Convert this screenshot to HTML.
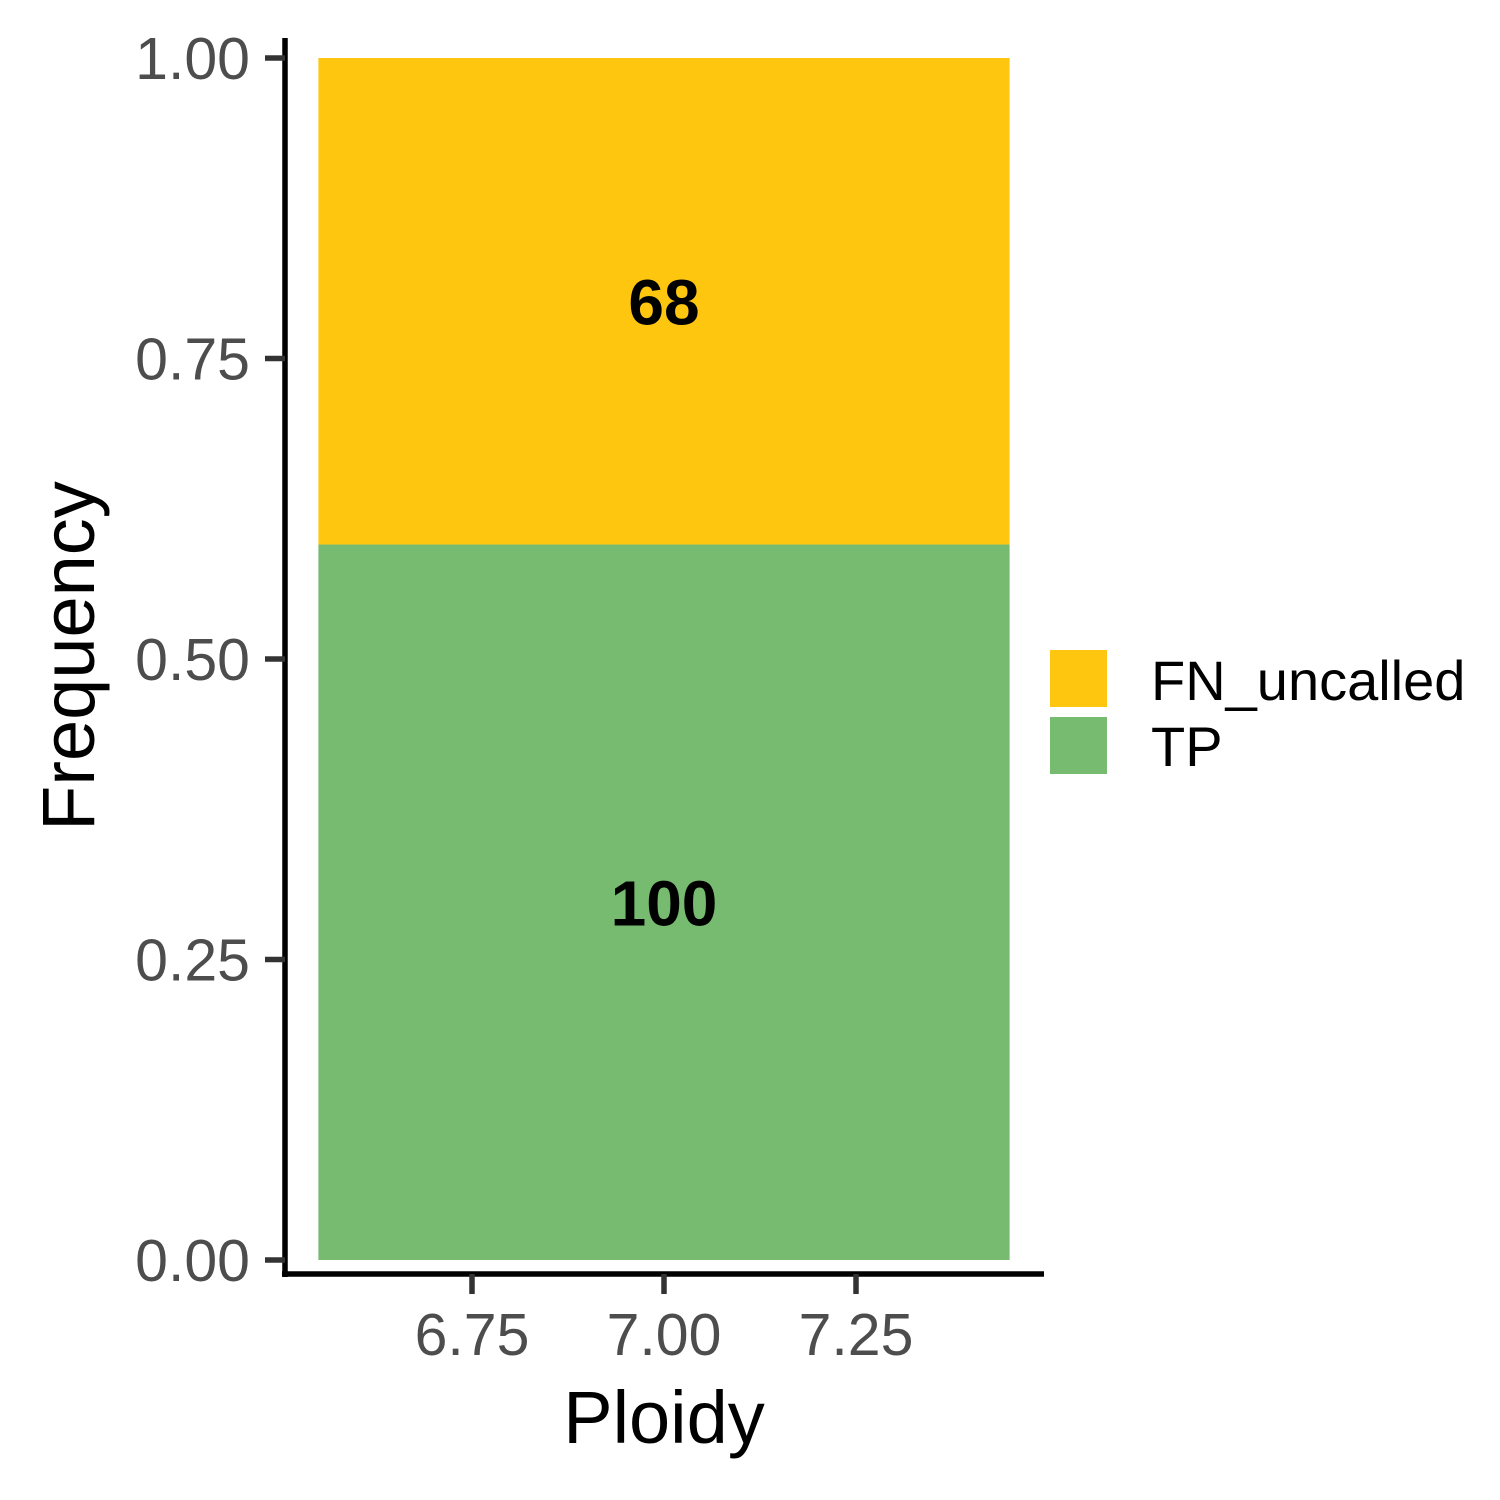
<!DOCTYPE html>
<html><head><meta charset="utf-8"><style>
html,body{margin:0;padding:0;background:#fff}
svg{display:block;font-family:"Liberation Sans",Arial,sans-serif}
</style></head><body>
<svg id="chart" width="1500" height="1500" viewBox="0 0 1500 1500">
<g id="bars"></g>
<g id="axes"></g>
<g id="legend"></g>
</svg>
<script>
const categories = [7.0];
const seriesNames = ["TP", "FN_uncalled"];
const tpCounts = [100];
const fnCounts = [68];
const seriesColors = ["#76bb70", "#fec60f"];
const yTicks = [0, 0.25, 0.5, 0.75, 1.0];
const yTickLabels = ["0.00", "0.25", "0.50", "0.75", "1.00"];
const xTicks = [6.75, 7.0, 7.25];
const xTickLabels = ["6.75", "7.00", "7.25"];
const legendLabels = ["FN_uncalled", "TP"];

const NS = "http://www.w3.org/2000/svg";
function el(tag, attrs, parent, text) {
  const e = document.createElementNS(NS, tag);
  for (const k in attrs) e.setAttribute(k, attrs[k]);
  if (text !== undefined) e.textContent = text;
  parent.appendChild(e);
  return e;
}
const yScale = v => 1260 - v * 1202;
const xScale = v => 664 + (v - 7.0) * 768;
const bars = document.getElementById("bars");
const axes = document.getElementById("axes");
const legend = document.getElementById("legend");

categories.forEach((c, i) => {
  const total = tpCounts[i] + fnCounts[i];
  const tpFrac = tpCounts[i] / total;
  const x0 = xScale(c - 0.45), x1 = xScale(c + 0.45);
  const r1 = el("rect", {x: x0, y: yScale(tpFrac), width: x1 - x0, height: yScale(0) - yScale(tpFrac), fill: seriesColors[0]}, bars);
  
  
  const r2 = el("rect", {x: x0, y: yScale(1), width: x1 - x0, height: yScale(tpFrac) - yScale(1), fill: seriesColors[1]}, bars);
  
  
  const t1 = el("text", {x: xScale(c), y: yScale(tpFrac / 2) + 23, "text-anchor": "middle", "font-size": 64, "font-weight": "bold", fill: "#000"}, bars, String(tpCounts[i]));
  
  
  const t2 = el("text", {x: xScale(c), y: yScale(tpFrac + (1 - tpFrac) / 2) + 23, "text-anchor": "middle", "font-size": 64, "font-weight": "bold", fill: "#000"}, bars, String(fnCounts[i]));
  
  
});

const yl = el("line", {x1: 285, y1: 38, x2: 285, y2: 1277, stroke: "#000", "stroke-width": 5.5}, axes);


const xl = el("line", {x1: 282, y1: 1274, x2: 1044, y2: 1274, stroke: "#000", "stroke-width": 5.5}, axes);



yTicks.forEach((v, i) => {
  const t = el("line", {x1: 265, y1: yScale(v), x2: 285, y2: yScale(v), stroke: "#333", "stroke-width": 5.5}, axes);
  
  
  const l = el("text", {x: 250, y: yScale(v) + 21, "text-anchor": "end", "font-size": 59, fill: "#4d4d4d"}, axes, yTickLabels[i]);
  
  
});
xTicks.forEach((v, i) => {
  const t = el("line", {x1: xScale(v), y1: 1274, x2: xScale(v), y2: 1294, stroke: "#333", "stroke-width": 5.5}, axes);
  
  
  const l = el("text", {x: xScale(v), y: 1355, "text-anchor": "middle", "font-size": 59, fill: "#4d4d4d"}, axes, xTickLabels[i]);
  
  
});
const xt = el("text", {x: 664, y: 1443, "text-anchor": "middle", "font-size": 74, fill: "#000"}, axes, "Ploidy");


const yt = el("text", {x: 0, y: 0, transform: "translate(94,656) rotate(-90)", "text-anchor": "middle", "font-size": 74, fill: "#000"}, axes, "Frequency");



legendLabels.forEach((lab, i) => {
  const color = seriesColors[seriesNames.indexOf(lab)];
  const k = el("rect", {x: 1050, y: 650 + i * 67, width: 57, height: 57, fill: color}, legend);
  
  
  const t = el("text", {x: 1151, y: 700 + i * 66, "font-size": 56, fill: "#000"}, legend, lab);
  
  
});
</script>
</body></html>
